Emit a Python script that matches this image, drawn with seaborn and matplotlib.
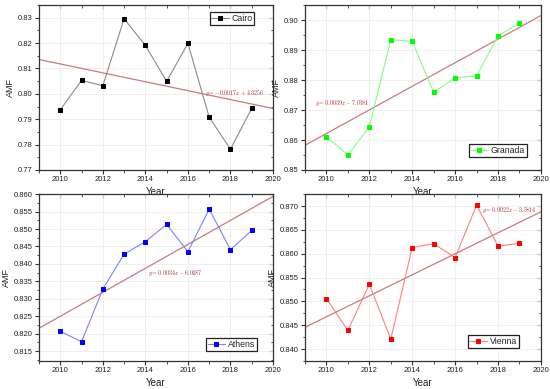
import numpy as np
import pandas as pd
import seaborn as sns
import matplotlib
matplotlib.use("Agg")
import matplotlib.pyplot as plt
from matplotlib.ticker import MultipleLocator, AutoMinorLocator

sns.set_theme(style="white")
plt.rcParams['font.family'] = ['Liberation Sans', 'DejaVu Sans']
plt.rcParams['mathtext.fontset'] = 'cm'

years = [2010, 2011, 2012, 2013, 2014, 2015, 2016, 2017, 2018, 2019]
cairo = [0.7937, 0.8053, 0.8032, 0.8296, 0.8191, 0.8049, 0.8199, 0.7908, 0.7782, 0.7943]
granada = [0.8611, 0.8550, 0.8644, 0.8935, 0.8929, 0.8759, 0.8808, 0.8814, 0.8947, 0.8990]
athens = [0.8207, 0.8177, 0.8328, 0.8428, 0.8464, 0.8513, 0.8435, 0.8557, 0.8441, 0.8496]
vienna = [0.8506, 0.8439, 0.8536, 0.8421, 0.8613, 0.8621, 0.8592, 0.8702, 0.8616, 0.8622]

equations = {
    "Cairo": r"$y = -0.0017x + 4.3256$",
    "Granada": r"$y = 0.0039x - 7.0381$",
    "Athens": r"$y = 0.0034x - 6.0487$",
    "Vienna": r"$y = 0.0022x - 3.5814$",
}

panels = [
    dict(name="Cairo", vals=cairo, line="#8a8a8a", mk="#000000",
         rect=[0.0709, 0.563, 0.4255, 0.424], ylim=(0.77, 0.835), major=0.01,
         fmt="{:.2f}", eq_xy=(2018.2, 0.8003), leg=(0.92, 0.955), legloc="upper right"),
    dict(name="Granada", vals=granada, line="#80ff80", mk="#00ff00",
         rect=[0.5545, 0.563, 0.429, 0.424], ylim=(0.85, 0.905), major=0.01,
         fmt="{:.2f}", eq_xy=(2010.75, 0.8722), leg=(0.94, 0.08), legloc="lower right"),
    dict(name="Athens", vals=athens, line="#8080ff", mk="#0000ff",
         rect=[0.0709, 0.072, 0.4255, 0.429], ylim=(0.8122, 0.860), major=0.005,
         fmt="{:.3f}", eq_xy=(2015.4, 0.8375), leg=(0.93, 0.06), legloc="lower right"),
    dict(name="Vienna", vals=vienna, line="#ff8080", mk="#ff0000",
         rect=[0.5545, 0.072, 0.429, 0.429], ylim=(0.8375, 0.8725), major=0.005,
         fmt="{:.3f}", eq_xy=(2018.55, 0.8692), leg=(0.905, 0.08), legloc="lower right"),
]

fig = plt.figure(figsize=(5.5, 3.89), dpi=100)
fig.patch.set_facecolor("white")

for p in panels:
    ax = fig.add_axes(p["rect"])
    df = pd.DataFrame({"Year": years, "AMF": p["vals"]})
    ax.set_xlim(2009, 2020)
    ax.set_ylim(*p["ylim"])
    sns.regplot(data=df, x="Year", y="AMF", ax=ax, scatter=False, ci=None,
                truncate=False, line_kws=dict(color="#cc7a7a", lw=0.9, zorder=2))
    sns.lineplot(data=df, x="Year", y="AMF", ax=ax, color=p["line"], lw=0.8,
                 marker="s", markersize=2.9, markerfacecolor=p["mk"],
                 markeredgecolor=p["mk"], label=p["name"], zorder=3)
    ax.set_xlim(2009, 2020)
    ax.set_ylim(*p["ylim"])
    ax.xaxis.set_major_locator(MultipleLocator(2))
    ax.xaxis.set_minor_locator(MultipleLocator(1))
    ax.yaxis.set_major_locator(MultipleLocator(p["major"]))
    ax.yaxis.set_minor_locator(AutoMinorLocator(2))
    ax.set_yticklabels([p["fmt"].format(t) for t in ax.get_yticks()])
    ax.grid(True, which="major", color="#ececec", lw=0.6, zorder=0)
    ax.set_axisbelow(True)
    for s in ax.spines.values():
        s.set_color("#333333")
        s.set_linewidth(0.9)
    ax.tick_params(which="both", direction="out", colors="#333333",
                   labelsize=5.5, labelcolor="#222222", bottom=True, left=True, pad=1.5)
    ax.tick_params(which="major", length=3, width=0.8)
    ax.tick_params(which="minor", length=1.8, width=0.6)
    sx = ax.secondary_xaxis("top")
    sx.xaxis.set_major_locator(MultipleLocator(2))
    sx.xaxis.set_minor_locator(MultipleLocator(1))
    sx.tick_params(which="both", direction="in", labeltop=False, colors="#333333")
    sx.tick_params(which="major", length=3, width=0.8)
    sx.tick_params(which="minor", length=1.8, width=0.6)
    sx.spines["top"].set_visible(False)
    sy = ax.secondary_yaxis("right")
    sy.yaxis.set_major_locator(MultipleLocator(p["major"]))
    sy.yaxis.set_minor_locator(AutoMinorLocator(2))
    sy.tick_params(which="both", direction="in", labelright=False, colors="#333333")
    sy.tick_params(which="major", length=3, width=0.8)
    sy.tick_params(which="minor", length=1.8, width=0.6)
    sy.spines["right"].set_visible(False)
    ax.set_xlabel("Year", fontsize=7, labelpad=3, color="#222222")
    ax.set_ylabel("AMF", fontsize=6.5, labelpad=2, color="#222222")
    ax.text(p["eq_xy"][0], p["eq_xy"][1], equations[p["name"]], fontsize=4.3,
            color="#b03030", ha="center", va="center", zorder=4)
    handles, labels = ax.get_legend_handles_labels()
    leg = ax.legend(handles=handles[-1:], labels=labels[-1:], loc=p["legloc"],
                    bbox_to_anchor=p["leg"], fontsize=6.3, frameon=True, fancybox=False,
                    edgecolor="#222222", framealpha=1, borderpad=0.2,
                    handlelength=2.0, handletextpad=0.3, borderaxespad=0)
    leg.get_frame().set_linewidth(0.9)

fig.savefig("out.png", dpi=100, facecolor="white")
